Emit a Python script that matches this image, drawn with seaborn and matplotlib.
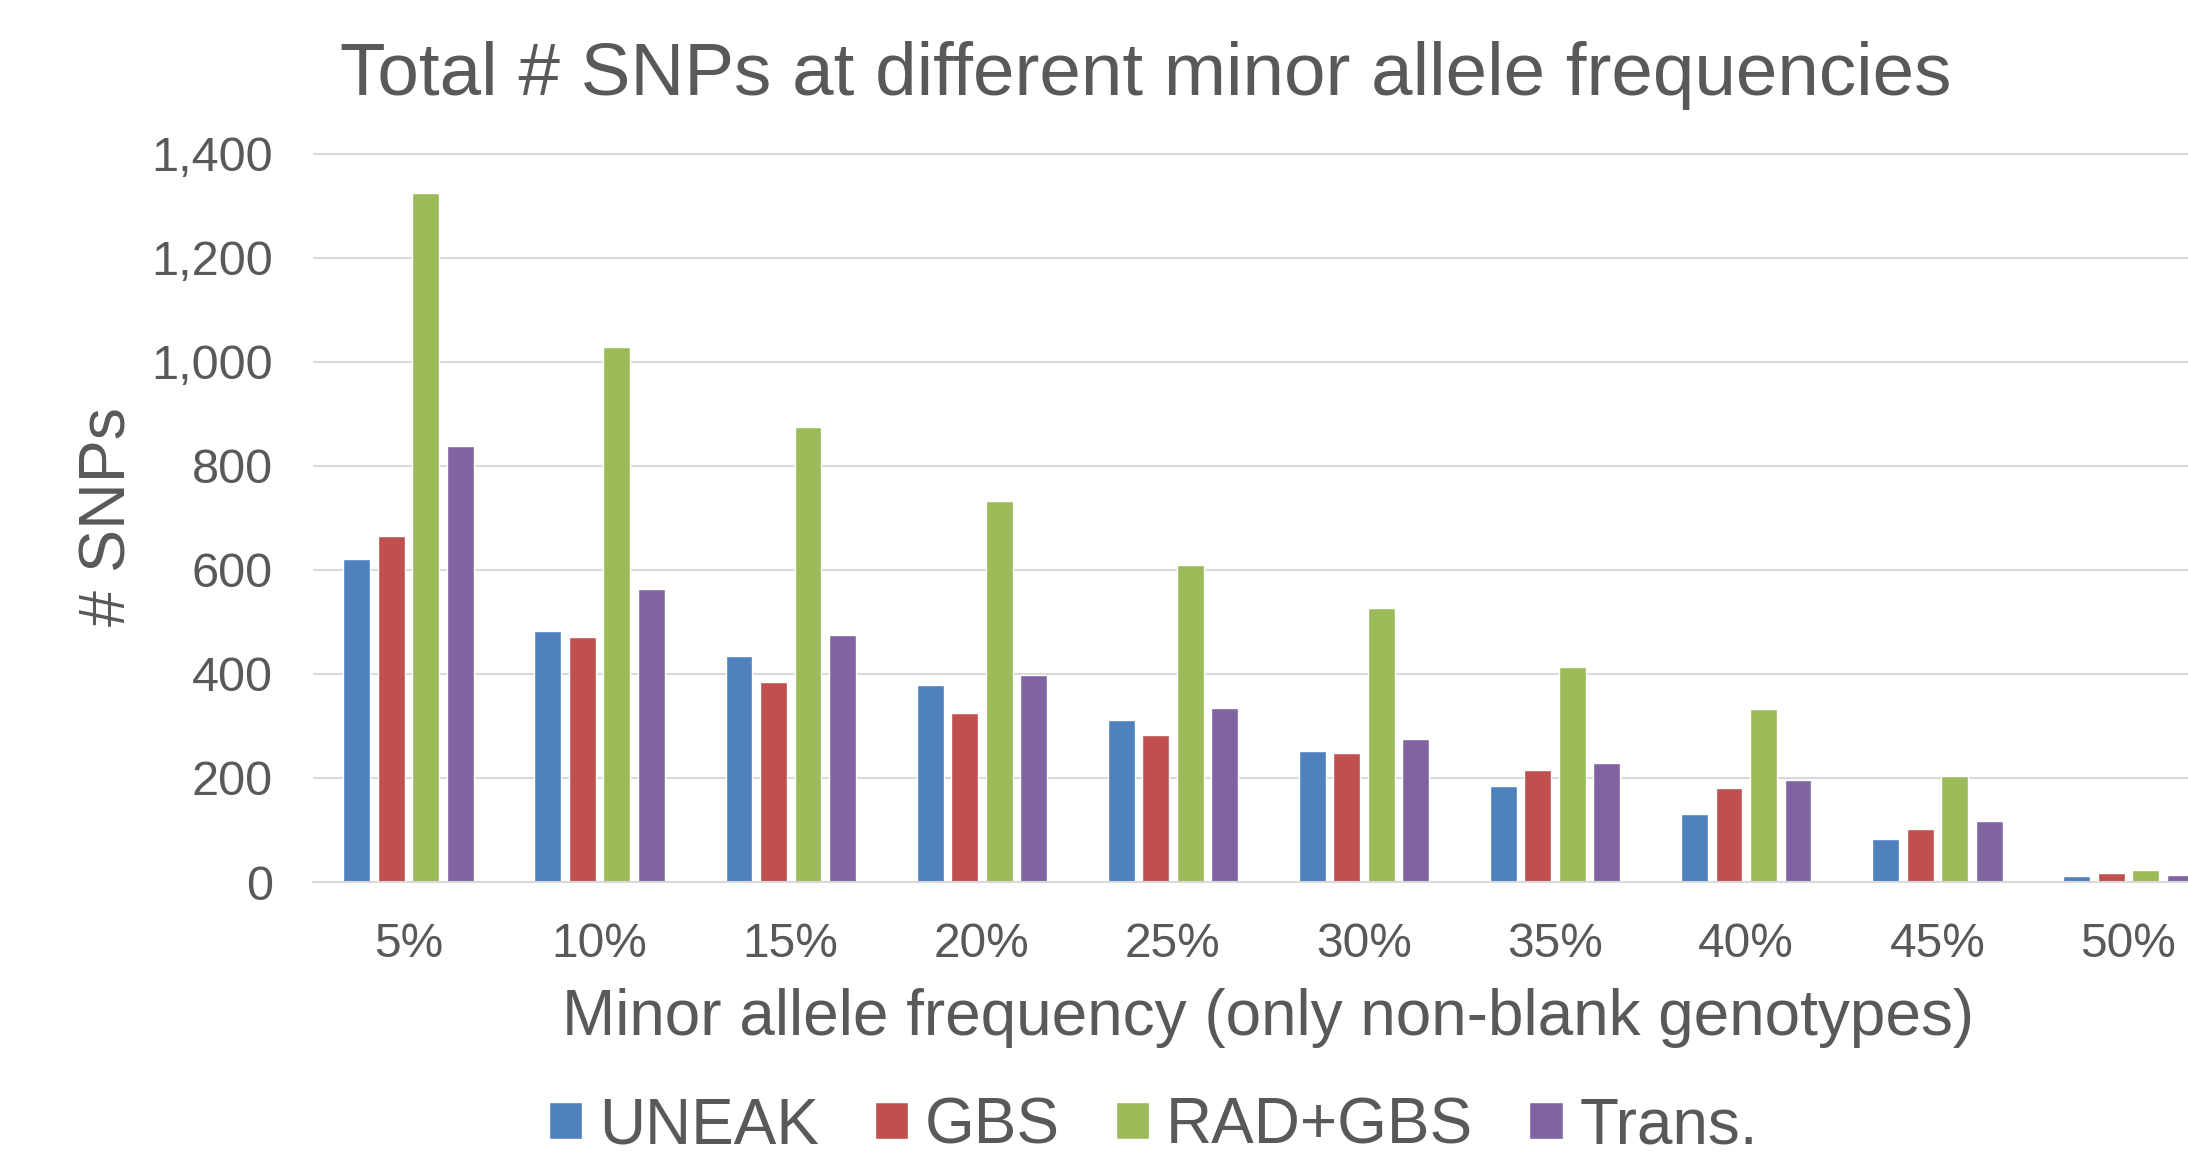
import matplotlib
matplotlib.use("Agg")
import matplotlib.pyplot as plt
from matplotlib.ticker import StrMethodFormatter, FixedLocator
import pandas as pd
import seaborn as sns

# Minor allele frequency bins
maf_bins = ["5%", "10%", "15%", "20%", "25%", "30%", "35%", "40%", "45%", "50%"]

# Number of SNPs per pipeline in each bin
uneak = [621, 483, 435, 378, 311, 252, 185, 131, 83, 12]
gbs = [664, 471, 385, 325, 282, 247, 215, 180, 102, 17]
rad_gbs = [1324, 1029, 875, 732, 609, 526, 413, 333, 204, 24]
trans = [837, 563, 475, 397, 335, 274, 228, 196, 118, 14]

methods = ["UNEAK", "GBS", "RAD+GBS", "Trans."]
colors = ["#4F81BD", "#C0504D", "#9BBB59", "#8064A2"]

records = []
for name, values in zip(methods, [uneak, gbs, rad_gbs, trans]):
    for b, v in zip(maf_bins, values):
        records.append({"maf": b, "snps": v, "method": name})
df = pd.DataFrame(records)

sns.set_theme(style="white")
plt.rcParams["font.family"] = ["Liberation Sans", "DejaVu Sans"]
TEXT = "#595959"
GRID = "#D9D9D9"

W, H = 2188, 1153
fig = plt.figure(figsize=(W / 100, H / 100), dpi=100)

# plot area (the last group runs past the right edge of the figure)
left_px, right_px, top_px, bottom_px = 313, 2224, 150, 882
ax = fig.add_axes([left_px / W, 1 - bottom_px / H,
                   (right_px - left_px) / W, (bottom_px - top_px) / H])

sns.barplot(data=df, x="maf", y="snps", hue="method", order=maf_bins,
            hue_order=methods, palette=colors, width=0.7225, gap=0.22,
            errorbar=None, saturation=1, ax=ax)

ax.set_xlim(-0.5, 9.5)
ax.set_ylim(0, 1400 * (bottom_px - top_px) / (bottom_px - 153.5))
ax.yaxis.set_major_locator(FixedLocator(range(0, 1401, 200)))
ax.yaxis.set_major_formatter(StrMethodFormatter("{x:,.0f}"))

for s in ["top", "right", "left"]:
    ax.spines[s].set_visible(False)
ax.spines["bottom"].set_color(GRID)
ax.spines["bottom"].set_linewidth(1.5)
ax.set_axisbelow(True)
ax.yaxis.grid(True, color=GRID, linewidth=1.5)
ax.xaxis.grid(False)

ax.tick_params(axis="both", length=0, colors=TEXT)
ax.tick_params(axis="x", pad=29, labelsize=34.5)
ax.tick_params(axis="y", pad=29, labelsize=35)

ax.set_xlabel("Minor allele frequency (only non-blank genotypes)",
              fontsize=46, color=TEXT)
ax.xaxis.label.set_va("baseline")
ax.xaxis.set_label_coords(0.4997, -(1035 - bottom_px) / (bottom_px - top_px))

ax.set_ylabel("# SNPs", fontsize=46.5, color=TEXT)
ax.yaxis.label.set_va("center")
ax.yaxis.set_label_coords((109 - left_px) / (right_px - left_px),
                          (bottom_px - 516) / (bottom_px - top_px))

fig.text(340 / W, 1 - 95 / H, "Total # SNPs at different minor allele frequencies",
         fontsize=53.7, color=TEXT, ha="left", va="baseline")

handles, labels = ax.get_legend_handles_labels()
ax.legend(handles, labels, loc="center", bbox_to_anchor=(1153.5 / W, 1 - 1126 / H),
          bbox_transform=fig.transFigure, ncol=4, frameon=False, fontsize=46,
          handlelength=0.52, handleheight=0.52, handletextpad=0.26,
          columnspacing=0.88, borderpad=0, labelcolor=TEXT)

fig.savefig("out.png", dpi=100)
